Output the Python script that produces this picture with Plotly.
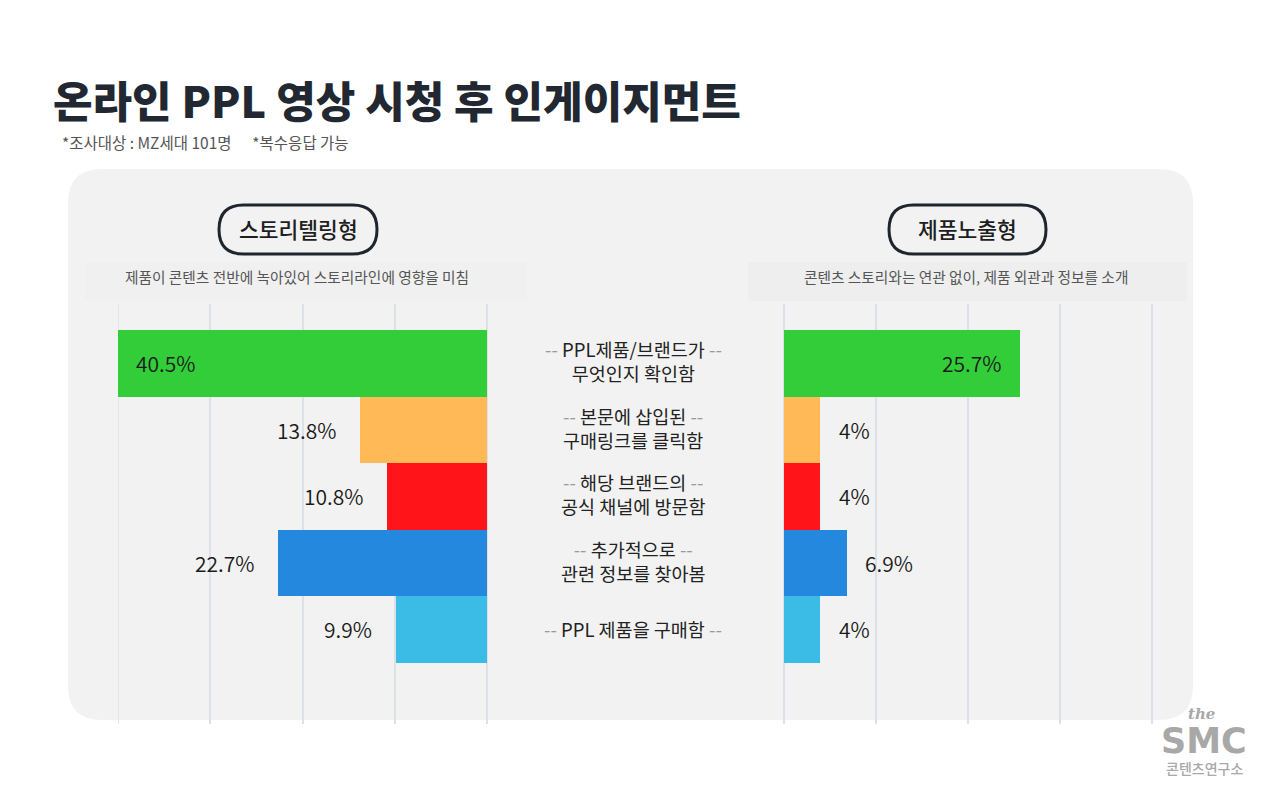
import plotly.graph_objects as go

# data
categories = [
    "<span style='color:#9a9a9a'>--</span> PPL제품/브랜드가 <span style='color:#9a9a9a'>--</span><br>무엇인지 확인함",
    "<span style='color:#9a9a9a'>--</span> 본문에 삽입된 <span style='color:#9a9a9a'>--</span><br>구매링크를 클릭함",
    "<span style='color:#9a9a9a'>--</span> 해당 브랜드의 <span style='color:#9a9a9a'>--</span><br>공식 채널에 방문함",
    "<span style='color:#9a9a9a'>--</span> 추가적으로 <span style='color:#9a9a9a'>--</span><br>관련 정보를 찾아봄",
    "<span style='color:#9a9a9a'>--</span> PPL 제품을 구매함 <span style='color:#9a9a9a'>--</span>",
]
storytelling = [40.5, 13.8, 10.8, 22.7, 9.9]
exposure = [25.7, 4, 4, 6.9, 4]
value_labels_left = ["40.5%", "13.8%", "10.8%", "22.7%", "9.9%"]
value_labels_right = ["25.7%", "4%", "4%", "6.9%", "4%"]
bar_colors = ["#33cd3a", "#ffb957", "#ff1419", "#2588df", "#3bbce7"]
grid_ticks = [0, 10, 20, 30, 40]
x_max = 40

# the page puts the figure 8px in from the top-left corner
OFF = 8
W, H = 1280 - OFF, 793 - OFF
FONT = "Noto Sans CJK KR"


def px_x(x):
    return (x - OFF) / W


def px_y(y):
    return 1 - (y - OFF) / H


ypos = list(range(len(categories)))

fig = go.Figure()

fig.add_trace(go.Bar(
    x=storytelling, y=ypos, orientation="h", marker=dict(color=bar_colors, line=dict(width=0)),
    width=1, xaxis="x", yaxis="y", hoverinfo="x", showlegend=False,
))
fig.add_trace(go.Bar(
    x=exposure, y=ypos, orientation="h", marker=dict(color=bar_colors, line=dict(width=0)),
    width=1, xaxis="x2", yaxis="y2", hoverinfo="x", showlegend=False,
))

# small padding so the gridlines at the ends are still drawn
# (left axis stops exactly at 40 so the 40.5% bar is cut there, as in the original)
pad = 0.4
unit_px = (487 - 118) / x_max
y_range = [5.42, -0.89]
ydom = [px_y(724), px_y(304)]
axis_common = dict(
    tickvals=grid_ticks, showticklabels=False, showgrid=True, gridcolor="#dde0e6",
    gridwidth=1.5, zeroline=False, showline=False, ticks="", fixedrange=True,
)
fig.update_layout(
    xaxis=dict(domain=[px_x(118), px_x(487 + pad * unit_px)],
               range=[x_max, -pad], **axis_common),
    xaxis2=dict(domain=[px_x(784 - pad * unit_px), px_x(1152 + pad * unit_px)],
                range=[-pad, x_max + pad], anchor="y2", **axis_common),
    yaxis=dict(domain=ydom, range=y_range, visible=False, fixedrange=True),
    yaxis2=dict(domain=ydom, range=y_range, visible=False, anchor="x2", fixedrange=True),
    bargap=0,
)

annotations = []

# value labels, left side (largest one sits inside the bar)
for i, v in enumerate(storytelling):
    inside = v == max(storytelling)
    annotations.append(dict(
        x=min(v, x_max), y=i, xref="x", yref="y", text=value_labels_left[i], showarrow=False,
        xanchor="left" if inside else "right", xshift=16 if inside else -22,
        font=dict(family=FONT, size=21, color="#1a1a1a", weight=350),
    ))

# value labels, right side
for i, v in enumerate(exposure):
    inside = v == max(exposure)
    annotations.append(dict(
        x=v, y=i, xref="x2", yref="y2", text=value_labels_right[i], showarrow=False,
        xanchor="right" if inside else "left", xshift=-17 if inside else 16,
        font=dict(family=FONT, size=21, color="#1a1a1a", weight=350),
    ))

# category labels in the middle
for i, c in enumerate(categories):
    annotations.append(dict(
        x=px_x(633), y=i, xref="paper", yref="y", text=c, showarrow=False,
        xanchor="center", yshift=2 if "<br>" in c else 0,
        font=dict(family=FONT, size=18.5, color="#222222"),
    ))

# title and notes
annotations += [
    dict(x=px_x(51), y=px_y(99), xref="paper", yref="paper", text="온라인 PPL 영상 시청 후 인게이지먼트",
         showarrow=False, xanchor="left", yanchor="middle",
         font=dict(family=FONT, size=43, color="#222831", weight=900)),
    dict(x=px_x(60), y=px_y(142), xref="paper", yref="paper",
         text="*조사대상 : MZ세대 101명      *복수응답 가능",
         showarrow=False, xanchor="left", yanchor="middle",
         font=dict(family=FONT, size=15.5, color="#555555")),
    dict(x=px_x(298), y=px_y(229), xref="paper", yref="paper", text="스토리텔링형",
         showarrow=False, xanchor="center", yanchor="middle",
         font=dict(family=FONT, size=21.5, color="#1e1e1e", weight=500)),
    dict(x=px_x(967), y=px_y(229), xref="paper", yref="paper", text="제품노출형",
         showarrow=False, xanchor="center", yanchor="middle",
         font=dict(family=FONT, size=21.5, color="#1e1e1e", weight=500)),
    dict(x=px_x(297), y=px_y(277), xref="paper", yref="paper",
         text="제품이 콘텐츠 전반에 녹아있어 스토리라인에 영향을 미침",
         showarrow=False, xanchor="center", yanchor="middle",
         font=dict(family=FONT, size=14.7, color="#555555")),
    dict(x=px_x(966), y=px_y(277), xref="paper", yref="paper",
         text="콘텐츠 스토리와는 연관 없이, 제품 외관과 정보를 소개",
         showarrow=False, xanchor="center", yanchor="middle",
         font=dict(family=FONT, size=14.7, color="#555555")),
    # logo
    dict(x=px_x(1201), y=px_y(714), xref="paper", yref="paper", text="<i><b>the</b></i>",
         showarrow=False, xanchor="center", yanchor="middle",
         font=dict(family="DejaVu Serif", size=15, color="#a8a8a8")),
    dict(x=px_x(1204), y=px_y(741), xref="paper", yref="paper", text="<b>SMC</b>",
         showarrow=False, xanchor="center", yanchor="middle",
         font=dict(family="DejaVu Sans", size=35, color="#a8a8a8")),
    dict(x=px_x(1204), y=px_y(768), xref="paper", yref="paper", text="콘텐츠연구소",
         showarrow=False, xanchor="center", yanchor="middle",
         font=dict(family=FONT, size=14, color="#a8a8a8", weight=500)),
]


def rounded_rect(x0, y0, x1, y1, r):
    # path in paper units, corners given in pixels
    rx, ry = r / W, r / H
    X0, X1 = px_x(x0), px_x(x1)
    Y0, Y1 = px_y(y1), px_y(y0)
    return (f"M {X0 + rx},{Y0} L {X1 - rx},{Y0} Q {X1},{Y0} {X1},{Y0 + ry} "
            f"L {X1},{Y1 - ry} Q {X1},{Y1} {X1 - rx},{Y1} L {X0 + rx},{Y1} "
            f"Q {X0},{Y1} {X0},{Y1 - ry} L {X0},{Y0 + ry} Q {X0},{Y0} {X0 + rx},{Y0} Z")


shapes = [
    dict(type="path", path=rounded_rect(68, 169, 1193, 720, 34), xref="paper", yref="paper",
         fillcolor="#f2f2f2", line=dict(width=0), layer="below"),
    dict(type="rect", x0=px_x(85), x1=px_x(527), y0=px_y(300), y1=px_y(262), xref="paper", yref="paper",
         fillcolor="#f0f0f0", line=dict(width=0), layer="below"),
    dict(type="rect", x0=px_x(748), x1=px_x(1187), y0=px_y(301), y1=px_y(262), xref="paper", yref="paper",
         fillcolor="#eeeeee", line=dict(width=0), layer="below"),
    dict(type="path", path=rounded_rect(219, 205, 377, 254, 24.5), xref="paper", yref="paper",
         fillcolor="#f2f2f2", line=dict(width=3, color="#1f252d"), layer="below"),
    dict(type="path", path=rounded_rect(889, 205, 1046, 254, 24.5), xref="paper", yref="paper",
         fillcolor="#f2f2f2", line=dict(width=3, color="#1f252d"), layer="below"),
    # outer gridline of the left axis (sits on the axis edge)
    dict(type="line", xref="x", yref="paper", x0=x_max, x1=x_max, y0=ydom[0], y1=ydom[1],
         line=dict(color="#dde0e6", width=1.5), layer="below"),
]

fig.update_layout(
    width=W, height=H,
    margin=dict(l=0, r=0, t=0, b=0),
    paper_bgcolor="white",
    plot_bgcolor="rgba(0,0,0,0)",
    annotations=annotations,
    shapes=shapes,
    font=dict(family=FONT),
)

fig.write_html("out.html")
